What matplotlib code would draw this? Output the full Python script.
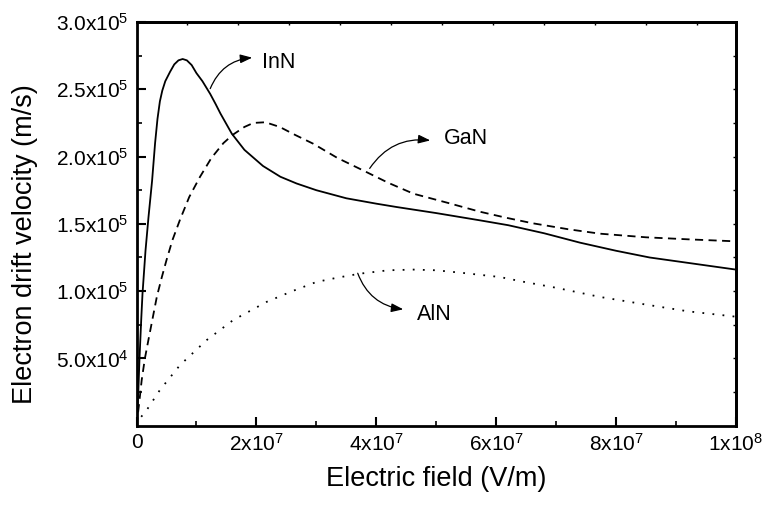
import numpy as np
import matplotlib.pyplot as plt

plt.rcParams['font.family'] = ['Liberation Sans', 'DejaVu Sans']
plt.rcParams['mathtext.default'] = 'regular'

# electric field in 1e6 V/m, drift velocity in 1e3 m/s
E_inn = [0, 0.3, 0.5, 0.8, 1.0, 1.5, 2.0, 2.6, 3.1, 3.5, 3.9, 4.3, 4.8, 5.6,
         6.3, 7.0, 7.7, 8.4, 9.2, 10.0, 11.0, 12.3, 13.2, 14.0, 15.9, 18.0,
         21.1, 24.0, 26.7, 30.0, 35.0, 40.0, 43.4, 50.0, 57.3, 62.0, 68.0,
         74.0, 80.0, 85.6, 92.0, 100]
v_inn = [0, 25, 50, 80, 98, 130, 155, 182, 210, 228, 241, 249, 256, 263,
         268.5, 271.5, 272.5, 271.5, 268, 262, 256, 246.5, 239, 232, 217, 205,
         193, 185, 180, 175, 169, 165, 162.5, 158, 152.6, 149, 143,
         136, 130, 125, 121, 116]

E_gan = [0, 0.4, 0.87, 1.4, 2.0, 2.7, 3.4, 4.2, 5.0, 6.0, 7.25, 8.8, 10.6,
         12.5, 14.5, 16.0, 18.0, 19.5, 21.5, 23.9, 26.5, 29.5, 33.5, 37.8,
         42.0, 46.2, 52.0, 57.3, 61.7, 66.0, 72.0, 77.3, 85.0, 92.0, 100]
v_gan = [0, 15, 34, 50, 64, 80, 96, 110, 123, 138, 153, 170, 185,
         199, 210, 216, 222, 225, 225.5, 222, 216, 209.5, 199, 189.7,
         180.5, 172.4, 165.5, 159, 154.5, 150.5, 146, 142.7, 140, 138.5, 137]

E_aln = [0, 0.58, 1.7, 3.9, 7.25, 11.7, 16.1, 21.7, 26.0, 30.0, 33.5, 37.3,
         42.0, 46.2, 50.0, 54.5, 60.6, 64.5, 70.0, 77.3, 85.0, 92.0, 100]
v_aln = [0, 5.5, 11.6, 26.5, 45, 63.6, 78.4, 92, 100, 106.8, 110, 113,
         115.5, 116, 115.5, 113.5, 110.5, 107, 102.5, 95.7, 90, 85, 81]

xticks = [0, 2e7, 4e7, 6e7, 8e7, 1e8]
xticklabels = ['0', '2x10$^{7}$', '4x10$^{7}$', '6x10$^{7}$', '8x10$^{7}$', '1x10$^{8}$']
yticks = [5e4, 1e5, 1.5e5, 2e5, 2.5e5, 3e5]
yticklabels = ['5.0x10$^{4}$', '1.0x10$^{5}$', '1.5x10$^{5}$',
               '2.0x10$^{5}$', '2.5x10$^{5}$', '3.0x10$^{5}$']

fig = plt.figure(figsize=(7.66, 5.08), dpi=100)
ax = fig.add_axes([0.1782, 0.162, 0.7826, 0.7947])

ax.plot(np.array(E_inn) * 1e6, np.array(v_inn) * 1e3, color='black', lw=1.3)
ax.plot(np.array(E_gan) * 1e6, np.array(v_gan) * 1e3, color='black', lw=1.3,
        linestyle=(0, (4.5, 3.0)))
ax.plot(np.array(E_aln) * 1e6, np.array(v_aln) * 1e3, color='black', lw=1.3,
        linestyle=(0, (1.0, 4.6)))

ax.set_xlim(0, 1e8)
ax.set_ylim(0, 3e5)

ax.set_xticks(xticks)
ax.set_xticklabels(xticklabels)
ax.set_xticks(np.arange(1e7, 1e8, 2e7), minor=True)
ax.set_yticks(yticks)
ax.set_yticklabels(yticklabels)
ax.set_yticks(np.arange(2.5e4, 3e5, 5e4), minor=True)

ax.tick_params(which='major', direction='in', length=6.5, width=1.5, labelsize=15)
ax.tick_params(which='minor', direction='in', length=3.5, width=1.2)
ax.tick_params(axis='y', which='major', pad=6)
ax.tick_params(axis='x', which='major', pad=5.5)

for s in ax.spines.values():
    s.set_linewidth(2)

# short inward ticks on the right and top frames
right = ax.secondary_yaxis('right')
right.set_yticks(np.arange(2.5e4, 3e5, 2.5e4))
right.set_yticklabels([])
right.tick_params(direction='in', length=2.5, width=1)
right.spines['right'].set_linewidth(2)
top = ax.secondary_xaxis('top')
top.set_xticks(np.arange(8.5e6, 1e8, 8.5e6))
top.set_xticklabels([])
top.tick_params(direction='in', length=2.5, width=1)
top.spines['top'].set_linewidth(2)

ax.set_xlabel('Electric field (V/m)', fontsize=19.5)
ax.set_ylabel('Electron drift velocity (m/s)', fontsize=19.5)
ax.xaxis.set_label_coords(0.5, -0.1)
ax.yaxis.set_label_coords(-0.164, 0.451)

arrow = dict(arrowstyle='-|>,head_length=0.6,head_width=0.22', color='black',
             lw=0.9, shrinkA=0, shrinkB=0, mutation_scale=12)
ax.annotate('', xy=(19.3e6, 273.5e3), xytext=(12.3e6, 250.5e3),
            arrowprops=dict(arrow, connectionstyle='arc3,rad=-0.3'))
ax.text(20.9e6, 269.8e3, 'InN', fontsize=15.5, ha='left', va='center')
ax.annotate('', xy=(49.0e6, 212e3), xytext=(38.9e6, 191.2e3),
            arrowprops=dict(arrow, connectionstyle='arc3,rad=-0.3'))
ax.text(51.2e6, 213.4e3, 'GaN', fontsize=15.5, ha='left', va='center')
ax.annotate('', xy=(44.5e6, 86.5e3), xytext=(36.9e6, 113.3e3),
            arrowprops=dict(arrow, connectionstyle='arc3,rad=0.3'))
ax.text(46.8e6, 83e3, 'AlN', fontsize=15.5, ha='left', va='center')

fig.savefig('out.png', dpi=100)
